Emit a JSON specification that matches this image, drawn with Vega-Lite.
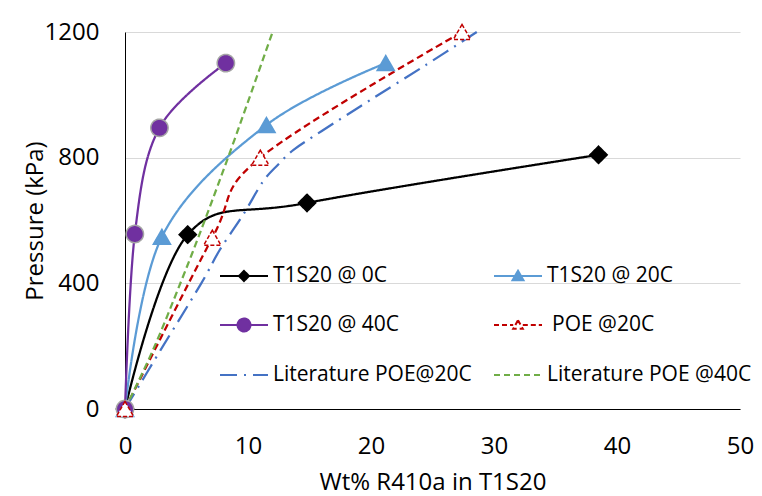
{
  "$schema": "https://vega.github.io/schema/vega-lite/v6.json",
  "width": 615,
  "height": 377,
  "autosize": {"type": "none"},
  "padding": {"left": 125, "top": 32, "right": 22, "bottom": 87},
  "background": "white",
  "config": {"view": {"stroke": null}, "font": "Open Sans"},
  "data": {
    "values": [
      {"series": "T1S20 @ 0C", "x": 0, "y": 0},
      {"series": "T1S20 @ 0C", "x": 5.1, "y": 555},
      {"series": "T1S20 @ 0C", "x": 14.8, "y": 656},
      {"series": "T1S20 @ 0C", "x": 38.5, "y": 809},
      {"series": "T1S20 @ 20C", "x": 0, "y": 0},
      {"series": "T1S20 @ 20C", "x": 3.0, "y": 548},
      {"series": "T1S20 @ 20C", "x": 11.5, "y": 904},
      {"series": "T1S20 @ 20C", "x": 21.2, "y": 1101},
      {"series": "T1S20 @ 40C", "x": 0, "y": 0},
      {"series": "T1S20 @ 40C", "x": 0.8, "y": 557},
      {"series": "T1S20 @ 40C", "x": 2.8, "y": 895},
      {"series": "T1S20 @ 40C", "x": 8.2, "y": 1101},
      {"series": "POE @20C", "x": 0, "y": 0},
      {"series": "POE @20C", "x": 7.1, "y": 545},
      {"series": "POE @20C", "x": 11.0, "y": 800},
      {"series": "POE @20C", "x": 27.4, "y": 1200},
      {"series": "Literature POE@20C", "x": 0, "y": 0},
      {"series": "Literature POE@20C", "x": 2.9, "y": 188},
      {"series": "Literature POE@20C", "x": 6.2, "y": 400},
      {"series": "Literature POE@20C", "x": 7.7, "y": 506},
      {"series": "Literature POE@20C", "x": 9.6, "y": 618},
      {"series": "Literature POE@20C", "x": 11.2, "y": 723},
      {"series": "Literature POE@20C", "x": 12.4, "y": 776},
      {"series": "Literature POE@20C", "x": 13.7, "y": 825},
      {"series": "Literature POE@20C", "x": 16.0, "y": 885},
      {"series": "Literature POE@20C", "x": 20.0, "y": 985},
      {"series": "Literature POE@20C", "x": 24.5, "y": 1096},
      {"series": "Literature POE@20C", "x": 28.6, "y": 1200},
      {"series": "Literature POE @40C", "x": 0, "y": 0},
      {"series": "Literature POE @40C", "x": 2.3, "y": 190},
      {"series": "Literature POE @40C", "x": 4.6, "y": 410},
      {"series": "Literature POE @40C", "x": 6.5, "y": 602},
      {"series": "Literature POE @40C", "x": 8.9, "y": 857},
      {"series": "Literature POE @40C", "x": 12.0, "y": 1200}
    ]
  },
  "layer": [
    {
      "mark": {"type": "line", "interpolate": "cardinal", "strokeWidth": 2.25},
      "encoding": {
        "x": {
          "field": "x", "type": "quantitative",
          "scale": {"domain": [0, 50], "nice": false},
          "axis": {
            "values": [0, 10, 20, 30, 40, 50],
            "title": "Wt% R410a in T1S20",
            "grid": false, "ticks": false, "tickSize": 0,
            "labelPadding": 25, "labelFontSize": 24, "labelFont": "Open Sans", "labelColor": "#000",
            "labelFlush": false, "labelOverlap": false,
            "domainColor": "#000", "domainWidth": 1,
            "titleFontSize": 24, "titleFont": "Open Sans", "titleFontWeight": "normal", "titleColor": "#000",
            "titleY": 73, "titleBaseline": "middle"
          }
        },
        "y": {
          "field": "y", "type": "quantitative",
          "scale": {"domain": [0, 1200], "nice": false},
          "axis": {
            "values": [0, 400, 800, 1200],
            "format": "d",
            "title": "Pressure (kPa)",
            "grid": true, "gridColor": "#D9D9D9", "gridWidth": 1,
            "ticks": false, "tickSize": 0,
            "labelPadding": 26, "labelFontSize": 24, "labelFont": "Open Sans", "labelColor": "#000",
            "labelFlush": false, "labelOverlap": false,
            "domainColor": "#000", "domainWidth": 1,
            "titleFontSize": 24, "titleFont": "Open Sans", "titleFontWeight": "normal", "titleColor": "#000",
            "titleX": -90, "titleY": 188.5, "titleAngle": -90, "titleBaseline": "middle", "titleAlign": "center"
          }
        },
        "color": {
          "field": "series", "type": "nominal",
          "scale": {
            "domain": ["T1S20 @ 0C", "T1S20 @ 40C", "Literature POE@20C", "T1S20 @ 20C", "POE @20C", "Literature POE @40C"],
            "range": ["#000000", "#7030A0", "#4472C4", "#5B9BD5", "#C00000", "#70AD47"]
          },
          "legend": {
            "orient": "none", "legendX": 94, "legendY": 219,
            "columns": 2, "title": null, "padding": 0,
            "labelFont": "Open Sans", "labelFontSize": 21, "labelColor": "#000", "labelLimit": 400,
            "labelOffset": 4, "columnPadding": 18, "rowPadding": 14,
            "symbolSize": 2304, "symbolStrokeWidth": 2,
            "encode": {
              "symbols": {
                "update": {
                  "shape": {"signal": "datum.value === 'T1S20 @ 0C' ? 'M-1,0H1M0,-0.21L0.21,0L0,0.21L-0.21,0Z' : datum.value === 'T1S20 @ 20C' ? 'M-1,0H1M0,-0.22L0.23,0.18L-0.23,0.18Z' : datum.value === 'T1S20 @ 40C' ? 'M-1,0H-0.27M0.27,0H1M-0.27,0A0.27,0.27 0 1,1 0.27,0A0.27,0.27 0 1,1 -0.27,0Z' : datum.value === 'POE @20C' ? 'M-1,0H-0.2M0.2,0H1M0,-0.2L0.2,0.16L-0.2,0.16Z' : 'M-1,0H1'"},
                  "fill": {"signal": "datum.value === 'T1S20 @ 0C' ? '#000000' : datum.value === 'T1S20 @ 20C' ? '#5B9BD5' : datum.value === 'T1S20 @ 40C' ? '#7030A0' : datum.value === 'POE @20C' ? '#ffffff' : 'transparent'"},
                  "strokeDash": {"signal": "datum.value === 'POE @20C' ? [5,3] : datum.value === 'Literature POE@20C' ? [17,7,2,7] : datum.value === 'Literature POE @40C' ? [6,4] : [1,0]"},
                  "size": {"value": 2304},
                  "strokeWidth": {"value": 2},
                  "opacity": {"value": 1}
                }
              },
              "labels": {
                "update": {
                  "dx": {"signal": "datum.value === 'POE @20C' ? 5 : 0"}
                }
              }
            }
          }
        },
        "strokeDash": {
          "field": "series", "type": "nominal",
          "scale": {
            "domain": ["T1S20 @ 0C", "T1S20 @ 20C", "T1S20 @ 40C", "POE @20C", "Literature POE@20C", "Literature POE @40C"],
            "range": [[1, 0], [1, 0], [1, 0], [7, 4], [18, 7, 2, 7], [7, 4]]
          },
          "legend": null
        }
      }
    },
    {
      "transform": [{"filter": {"field": "series", "oneOf": ["T1S20 @ 0C", "T1S20 @ 20C", "T1S20 @ 40C", "POE @20C"]}}],
      "mark": {"type": "point", "size": 300, "strokeWidth": 1.5, "opacity": 1, "fillOpacity": 1},
      "encoding": {
        "x": {"field": "x", "type": "quantitative"},
        "y": {"field": "y", "type": "quantitative"},
        "shape": {
          "field": "series", "type": "nominal",
          "scale": {"domain": ["T1S20 @ 0C", "T1S20 @ 20C", "T1S20 @ 40C", "POE @20C"], "range": ["diamond", "triangle-up", "circle", "triangle-up"]},
          "legend": null
        },
        "fill": {
          "field": "series", "type": "nominal",
          "scale": {"domain": ["T1S20 @ 0C", "T1S20 @ 20C", "T1S20 @ 40C", "POE @20C"], "range": ["#000000", "#5B9BD5", "#7030A0", "#ffffff"]},
          "legend": null
        },
        "stroke": {
          "field": "series", "type": "nominal",
          "scale": {"domain": ["T1S20 @ 0C", "T1S20 @ 20C", "T1S20 @ 40C", "POE @20C"], "range": ["#000000", "#5B9BD5", "#A5A5A5", "#C00000"]},
          "legend": null
        },
        "strokeDash": {
          "condition": {"test": "datum.series === 'POE @20C'", "value": [4, 2]},
          "value": [1, 0]
        }
      }
    }
  ]
}
